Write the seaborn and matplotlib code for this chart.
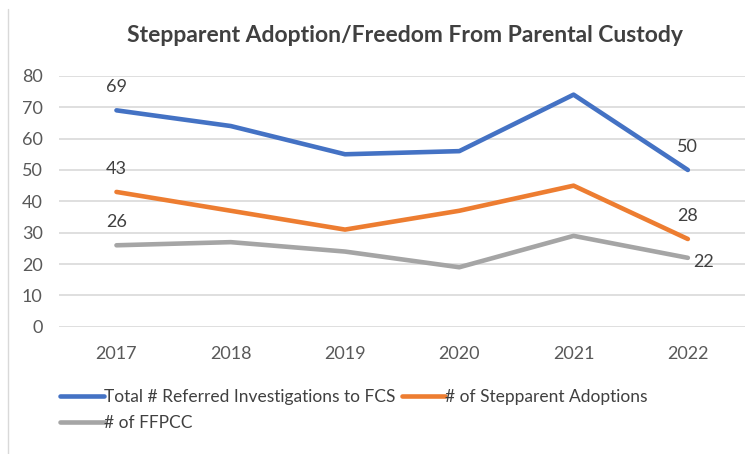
import matplotlib
matplotlib.use("Agg")
import matplotlib.pyplot as plt
import seaborn as sns
import pandas as pd

years = ["2017", "2018", "2019", "2020", "2021", "2022"]
referred = [69, 64, 55, 56, 74, 50]
stepparent = [43, 37, 31, 37, 45, 28]
ffpcc = [26, 27, 24, 19, 29, 22]
series_names = ["Total # Referred Investigations to FCS",
                "# of Stepparent Adoptions",
                "# of FFPCC"]
colors = ["#4472C4", "#ED7D31", "#A5A5A5"]

df = pd.DataFrame({
    "year": years * 3,
    "value": referred + stepparent + ffpcc,
    "series": [s for s in series_names for _ in years],
})

sns.set_style("white")
plt.rcParams["font.family"] = ["Lato", "DejaVu Sans"]

fig = plt.figure(figsize=(7.51, 4.54), dpi=100)
ax = fig.add_axes([0.079, 0.28, 0.913, 0.553])

sns.lineplot(data=df, x="year", y="value", hue="series", palette=colors,
             linewidth=3.3, ax=ax, sort=False)

ax.set_ylim(0, 80)
ax.set_yticks(range(0, 81, 10))
ax.set_xlim(-0.5, len(years) - 0.5)
ax.grid(axis="y", color="#D9D9D9", linewidth=1.2)
ax.set_axisbelow(True)
for s in ax.spines.values():
    s.set_visible(False)
ax.tick_params(axis="both", colors="#595959", labelsize=13, length=0, pad=12)
ax.tick_params(axis="x", pad=14)
ax.set_xlabel("")
ax.set_ylabel("")

# data labels on first and last points
lbl = dict(color="#404040", fontsize=13, ha="center", va="bottom")
ax.annotate(str(referred[0]), (0, referred[0]), xytext=(0, 11), textcoords="offset points", **lbl)
ax.annotate(str(stepparent[0]), (0, stepparent[0]), xytext=(0, 11), textcoords="offset points", **lbl)
ax.annotate(str(ffpcc[0]), (0, ffpcc[0]), xytext=(0, 11), textcoords="offset points", **lbl)
ax.annotate(str(referred[-1]), (5, referred[-1]), xytext=(0, 11), textcoords="offset points", **lbl)
ax.annotate(str(stepparent[-1]), (5, stepparent[-1]), xytext=(0, 11), textcoords="offset points", **lbl)
ax.annotate(str(ffpcc[-1]), (5, ffpcc[-1]), xytext=(4, -3), textcoords="offset points",
            color="#404040", fontsize=13, ha="left", va="center")

fig.text(0.539, 0.922, "Stepparent Adoption/Freedom From Parental Custody",
         ha="center", va="center", fontsize=16.5, fontweight="bold", color="#404040")

handles, labels = ax.get_legend_handles_labels()
ax.get_legend().remove()
order = [0, 2, 1]
fig.legend([handles[i] for i in order], [labels[i] for i in order],
           loc="upper left", bbox_to_anchor=(0.071, 0.158),
           ncol=2, frameon=False, fontsize=12.5, handlelength=2.5,
           handletextpad=0.0, columnspacing=0.4, labelcolor="#404040",
           borderaxespad=0, labelspacing=0.55)

fig.add_artist(plt.Line2D([0.011, 0.011], [0.0, 0.98], color="#D9D9D9", linewidth=1,
                          transform=fig.transFigure))

fig.savefig("out.png", dpi=100)
